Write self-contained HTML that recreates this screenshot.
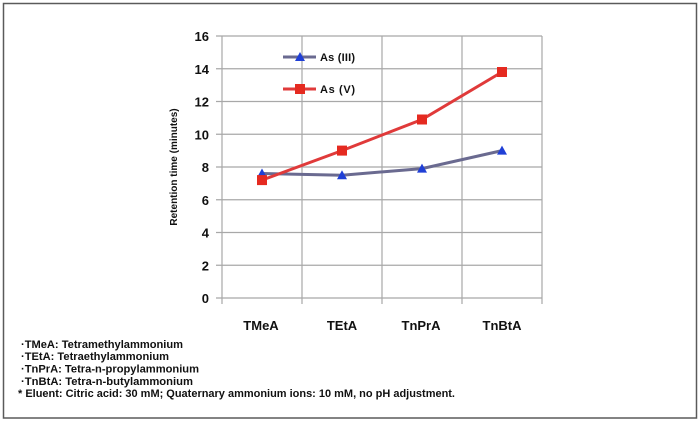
<!DOCTYPE html>
<html><head><meta charset="utf-8"><style>
html,body{margin:0;padding:0;background:#fff;}
svg{display:block;font-family:"Liberation Sans",Arial,sans-serif;}
</style></head><body>
<svg width="700" height="421" viewBox="0 0 700 421" xmlns="http://www.w3.org/2000/svg">
<rect x="0" y="0" width="700" height="421" fill="#fff"/>
<rect x="3.5" y="3.5" width="693" height="414.5" fill="none" stroke="#5a5a5a" stroke-width="1.5"/>
<!-- grid -->
<g stroke="#a8a8a8" stroke-width="1.2" fill="none">
<line x1="216" y1="36" x2="542" y2="36"/>
<line x1="216" y1="68.75" x2="542" y2="68.75"/>
<line x1="216" y1="101.5" x2="542" y2="101.5"/>
<line x1="216" y1="134.25" x2="542" y2="134.25"/>
<line x1="216" y1="167" x2="542" y2="167"/>
<line x1="216" y1="199.75" x2="542" y2="199.75"/>
<line x1="216" y1="232.5" x2="542" y2="232.5"/>
<line x1="216" y1="265.25" x2="542" y2="265.25"/>
<line x1="216" y1="298" x2="542" y2="298"/>
<line x1="222" y1="36" x2="222" y2="304"/>
<line x1="302" y1="36" x2="302" y2="304"/>
<line x1="382" y1="36" x2="382" y2="304"/>
<line x1="462" y1="36" x2="462" y2="304"/>
<line x1="542" y1="36" x2="542" y2="304"/>
</g>
<!-- y tick labels -->
<g font-size="13" font-weight="bold" fill="#111" text-anchor="end">
<text x="209" y="41">16</text>
<text x="209" y="73.75">14</text>
<text x="209" y="106.5">12</text>
<text x="209" y="139.25">10</text>
<text x="209" y="172">8</text>
<text x="209" y="204.75">6</text>
<text x="209" y="237.5">4</text>
<text x="209" y="270.25">2</text>
<text x="209" y="303">0</text>
</g>
<text transform="translate(177,167) rotate(-90)" font-size="10" font-weight="bold" fill="#111" text-anchor="middle">Retention time (minutes)</text>
<!-- x labels -->
<g font-size="13" font-weight="bold" fill="#111" text-anchor="middle">
<text x="261" y="330">TMeA</text>
<text x="342" y="330">TEtA</text>
<text x="421" y="330">TnPrA</text>
<text x="502" y="330">TnBtA</text>
</g>
<!-- As(III) -->
<polyline points="262,173.5 342,175.2 422,168.6 502,150.6" fill="none" stroke="#6a6a90" stroke-width="3"/>
<g fill="#1f3fd6">
<polygon points="262,168.5 267,177.5 257,177.5"/>
<polygon points="342,170.2 347,179.2 337,179.2"/>
<polygon points="422,163.6 427,172.6 417,172.6"/>
<polygon points="502,145.6 507,154.6 497,154.6"/>
</g>
<!-- As(V) -->
<polyline points="262,180.1 342,150.6 422,119.5 502,72" fill="none" stroke="#e03a3a" stroke-width="3"/>
<g fill="#e52a20">
<rect x="257" y="175.1" width="10" height="10"/>
<rect x="337" y="145.6" width="10" height="10"/>
<rect x="417" y="114.5" width="10" height="10"/>
<rect x="497" y="67" width="10" height="10"/>
</g>
<!-- legend -->
<line x1="283" y1="57" x2="316" y2="57" stroke="#6a6a90" stroke-width="3"/>
<polygon points="300,52 305,61 295,61" fill="#1f3fd6"/>
<text x="320" y="61" font-size="11" font-weight="bold" fill="#111" textLength="35" lengthAdjust="spacing">As (III)</text>
<line x1="283" y1="89" x2="316" y2="89" stroke="#e03a3a" stroke-width="3"/>
<rect x="295" y="84" width="10" height="10" fill="#e52a20"/>
<text x="320" y="93" font-size="11" font-weight="bold" fill="#111" textLength="35" lengthAdjust="spacing">As (V)</text>
<!-- notes -->
<g font-size="11" font-weight="bold" fill="#111">
<text x="21" y="348" textLength="162" lengthAdjust="spacingAndGlyphs">·TMeA: Tetramethylammonium</text>
<text x="21" y="360" textLength="148" lengthAdjust="spacingAndGlyphs">·TEtA: Tetraethylammonium</text>
<text x="21" y="372.5" textLength="178" lengthAdjust="spacingAndGlyphs">·TnPrA: Tetra-n-propylammonium</text>
<text x="21" y="385" textLength="172" lengthAdjust="spacingAndGlyphs">·TnBtA: Tetra-n-butylammonium</text>
<text x="18" y="397" textLength="437" lengthAdjust="spacingAndGlyphs">* Eluent: Citric acid: 30 mM; Quaternary ammonium ions: 10 mM, no pH adjustment.</text>
</g>
</svg>
</body></html>
